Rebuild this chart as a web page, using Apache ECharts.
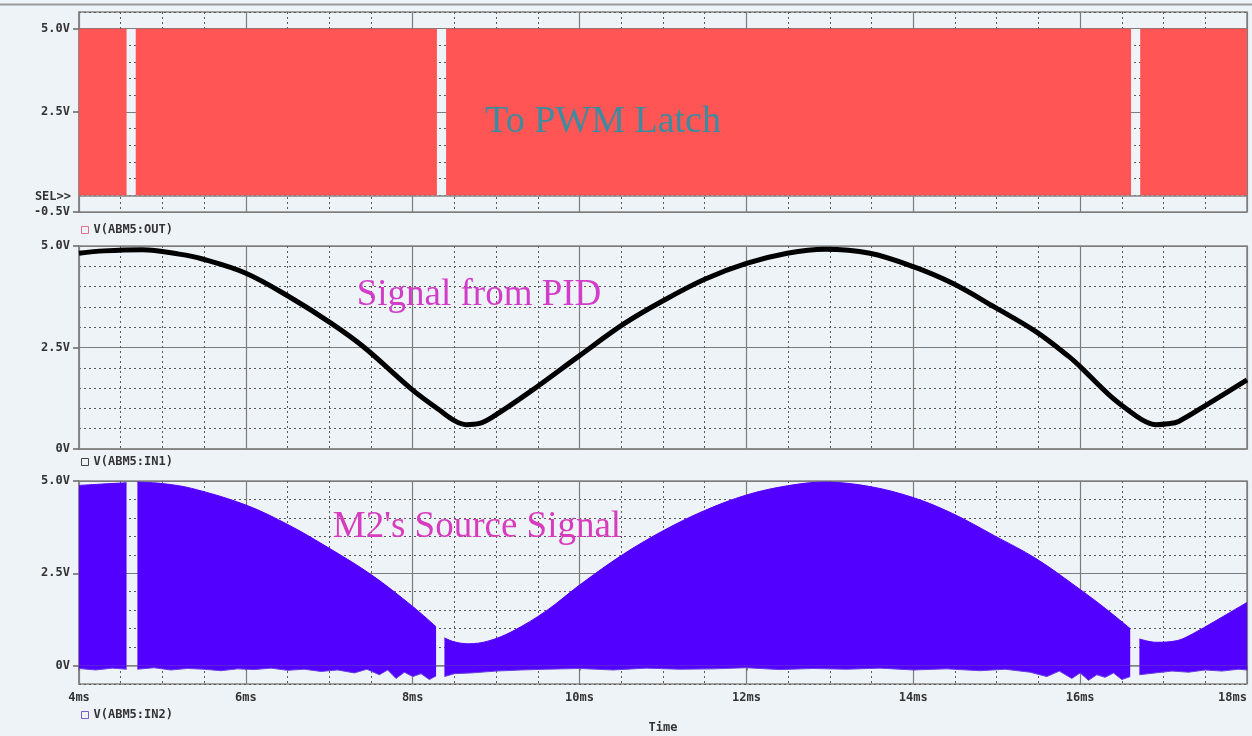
<!DOCTYPE html>
<html>
<head>
<meta charset="utf-8">
<title>ABM5 waveforms</title>
<script src="https://cdn.jsdelivr.net/npm/echarts@6/dist/echarts.min.js"></script>
<style>
html, body { margin: 0; padding: 0; background: #eef3f8; }
#J_chart { width: 1252px; height: 736px; }
</style>
</head>
<body>
<div id="J_chart"></div>
<script>
// time axis (ms)
var timeMin = 4, timeMax = 18;
// y tick labels per panel
var yTicksTop = [-0.5, 2.5, 5];
var yTicksMid = [0, 2.5, 5];
var yTicksBot = [0, 2.5, 5];

// V(ABM5:OUT) -> PWM latch, drops out three times
var pwmTime = [4.0, 4.57, 4.62, 4.68, 8.29, 8.345, 8.40, 16.61, 16.665, 16.72, 18.0];
var pwmVolt = [5, 5, null, 5, 5, null, 5, 5, null, 5, 5];

// V(ABM5:IN1) -> signal from PID
var pidTime = [4.0, 4.3, 4.76, 5.2, 5.48, 6.0, 6.52, 7.02, 7.42, 8.0,
               8.32, 8.5, 8.64, 8.8, 8.95, 9.4, 10.0, 10.53, 11.0, 11.5,
               12.0, 12.49, 12.94, 13.48, 14.0, 14.47, 14.97, 15.47, 15.87, 16.0,
               16.37, 16.68, 16.8, 16.91, 17.05, 17.18, 17.54, 18.0];
var pidVolt = [4.82, 4.88, 4.91, 4.80, 4.68, 4.33, 3.75, 3.10, 2.50, 1.45,
               0.96, 0.70, 0.60, 0.63, 0.78, 1.40, 2.30, 3.08, 3.65, 4.18,
               4.57, 4.82, 4.92, 4.82, 4.49, 4.08, 3.50, 2.89, 2.27, 2.03,
               1.29, 0.80, 0.66, 0.60, 0.62, 0.68, 1.12, 1.70];

// V(ABM5:IN2) -> M2 source, upper envelope
var envTime = [4.0, 4.3, 4.57, 4.62, 4.70, 5.0, 5.35, 6.0, 6.52, 7.02,
               7.51, 8.0, 8.28, 8.33, 8.38, 8.5, 8.67, 8.9, 9.19, 9.6,
               10.0, 10.5, 11.0, 11.5, 12.0, 12.49, 12.94, 13.48, 14.0, 14.47,
               14.97, 15.47, 16.0, 16.3, 16.60, 16.66, 16.71, 16.91, 17.17, 17.35,
               17.6, 18.0];
var envVolt = [4.88, 4.92, 4.95, null, 4.97, 4.93, 4.80, 4.35, 3.80, 3.15,
               2.45, 1.60, 1.05, null, 0.75, 0.64, 0.59, 0.66, 0.92, 1.48,
               2.18, 2.98, 3.65, 4.20, 4.62, 4.87, 4.97, 4.85, 4.55, 4.12,
               3.52, 2.90, 2.06, 1.55, 1.00, null, 0.72, 0.63, 0.68, 0.86,
               1.18, 1.71];

// V(ABM5:IN2) lower (noisy) edge
var lowTime = [4.0, 4.2, 4.4, 4.57, 4.62, 4.70, 4.9, 5.1, 5.3, 5.5,
               5.7, 5.9, 6.1, 6.3, 6.5, 6.7, 6.9, 7.1, 7.3, 7.45,
               7.6, 7.7, 7.8, 7.9, 8.0, 8.1, 8.2, 8.28, 8.33, 8.38,
               8.5, 8.7, 9.0, 9.3, 9.6, 10.0, 10.4, 10.8, 11.2, 11.6,
               12.0, 12.4, 12.8, 13.2, 13.6, 14.0, 14.4, 14.8, 15.1, 15.4,
               15.6, 15.75, 15.9, 16.0, 16.1, 16.2, 16.3, 16.4, 16.5, 16.60,
               16.66, 16.71, 16.9, 17.1, 17.3, 17.5, 17.7, 17.9, 18.0];
var lowVolt = [-0.08, -0.12, -0.07, -0.10, null, -0.10, -0.06, -0.12, -0.08, -0.10,
               -0.14, -0.09, -0.11, -0.07, -0.13, -0.10, -0.16, -0.12, -0.20, -0.10,
               -0.25, -0.12, -0.35, -0.18, -0.30, -0.22, -0.38, -0.28, null, -0.30,
               -0.22, -0.20, -0.15, -0.12, -0.10, -0.08, -0.12, -0.07, -0.10, -0.09,
               -0.06, -0.11, -0.08, -0.10, -0.07, -0.12, -0.09, -0.14, -0.10, -0.18,
               -0.30, -0.15, -0.35, -0.20, -0.40, -0.25, -0.32, -0.20, -0.38, -0.30,
               null, -0.25, -0.20, -0.15, -0.18, -0.12, -0.15, -0.10, -0.12];

var ScopeChart = function(cfg){
    var chart = {
        init: function(){
            this.dom = document.getElementById(cfg.divId);
            this.inst = echarts.init(this.dom, null, {renderer: 'canvas'});
            this.font = 'DejaVu Sans Mono';
            this.panels = [
                {top: 12,  height: 200, min: -0.5, max: 5.5, ticks: yTicksTop},
                {top: 246, height: 203, min: 0,    max: 5,   ticks: yTicksMid},
                {top: 481, height: 203, min: -0.5, max: 5,   ticks: yTicksBot}
            ];
            this.configOption();
            this.inst.setOption(this.option);
        },
        zip: function(t, v){
            var out = [];
            for (var i = 0; i < t.length; i++) {
                out.push([t[i], v[i]]);
            }
            return out;
        },
        voltLabel: function(v){
            return v === 0 ? '0V' : v.toFixed(1) + 'V';
        },
        labelStyle: function(){
            return {fontFamily: this.font, fontWeight: 'bold', fontSize: 12, color: '#333'};
        },
        configOption: function(){
            var self = this;
            var grids = [], xAxes = [], yAxes = [];
            var dashed = {type: [2, 3], color: '#5a5a5a', width: 1};
            var solid = {type: 'solid', color: '#7c7c7c', width: 1.2};
            var n = this.panels.length;

            this.panels.forEach(function(p, g){
                grids.push({
                    left: 79, right: 5, top: p.top, height: p.height,
                    outerBoundsMode: 'none',
                    show: true, borderColor: '#858585', borderWidth: 1.5,
                    backgroundColor: 'transparent'
                });
                // minor (dashed) x grid
                xAxes.push({
                    gridIndex: g, type: 'value', position: 'bottom',
                    min: timeMin, max: timeMax, interval: 0.5,
                    axisLine: {show: false}, axisTick: {show: false}, axisLabel: {show: false},
                    splitLine: {show: true, lineStyle: dashed}
                });
                // minor (dashed) y grid
                yAxes.push({
                    gridIndex: g, type: 'value', position: 'left',
                    min: p.min, max: p.max, interval: 0.5,
                    axisLine: {show: false}, axisTick: {show: false}, axisLabel: {show: false},
                    splitLine: {show: true, lineStyle: dashed}
                });
            });
            this.panels.forEach(function(p, g){
                var last = g === n - 1;
                xAxes.push({
                    gridIndex: g, type: 'value', position: 'bottom',
                    min: timeMin, max: timeMax, interval: 2,
                    axisLine: {show: true, lineStyle: {color: '#858585', width: 1.5}},
                    axisTick: {show: last, length: 5, lineStyle: {color: '#666', width: 1.5}},
                    axisLabel: Object.assign({
                        show: last, margin: 8, alignMaxLabel: 'right',
                        formatter: function(v){ return v + 'ms'; }
                    }, self.labelStyle()),
                    splitLine: {show: true, lineStyle: solid},
                    name: last ? 'Time' : '',
                    nameLocation: 'middle', nameGap: 38,
                    nameTextStyle: self.labelStyle()
                });
                yAxes.push({
                    gridIndex: g, type: 'value', position: 'left',
                    min: p.min, max: p.max,
                    axisLine: {show: true, lineStyle: {color: '#858585', width: 1.5}},
                    axisTick: {show: true, length: 6, customValues: p.ticks, lineStyle: {color: '#666', width: 1.5}},
                    axisLabel: Object.assign({
                        margin: 9, customValues: p.ticks,
                        formatter: function(v){ return self.voltLabel(v); }
                    }, self.labelStyle()),
                    splitLine: {show: true, lineStyle: solid}
                });
            });

            var legendBase = function(name, top, color){
                return {
                    data: [name], left: 81, top: top, padding: 0,
                    icon: 'rect', itemWidth: 7, itemHeight: 7, itemGap: 5,
                    selectedMode: false,
                    itemStyle: {color: 'transparent', borderColor: color, borderWidth: 1},
                    textStyle: self.labelStyle()
                };
            };

            this.option = {
                animation: false,
                backgroundColor: '#eef3f8',
                grid: grids,
                xAxis: xAxes,
                yAxis: yAxes,
                legend: [
                    legendBase('V(ABM5:OUT)', 224, '#e0708a'),
                    legendBase('V(ABM5:IN1)', 456, '#444'),
                    legendBase('V(ABM5:IN2)', 709, '#7a5ad0')
                ],
                graphic: [
                    {type: 'line', shape: {x1: 0, y1: 4.5, x2: 1252, y2: 4.5},
                     style: {stroke: '#9a9a9a', lineWidth: 2}, silent: true},
                    {type: 'text', x: 71, y: 197, silent: true,
                     style: {text: 'SEL>>', align: 'right', verticalAlign: 'middle',
                             font: 'bold 12px "DejaVu Sans Mono"', fill: '#333'}},
                    {type: 'text', x: 603, y: 122, silent: true, z: 10,
                     style: {text: 'To PWM Latch', align: 'center', verticalAlign: 'middle',
                             font: '38px "Liberation Serif"', fill: '#3a8c9e'}},
                    {type: 'text', x: 479, y: 295, silent: true, z: 10,
                     style: {text: 'Signal from PID', align: 'center', verticalAlign: 'middle',
                             font: '37px "Liberation Serif"', fill: '#d23cc8'}},
                    {type: 'text', x: 477, y: 527, silent: true, z: 10,
                     style: {text: "M2's Source Signal", align: 'center', verticalAlign: 'middle',
                             font: '37px "Liberation Serif"', fill: '#d83cbe'}}
                ],
                series: [
                    {
                        name: 'V(ABM5:OUT)', type: 'line',
                        xAxisIndex: 3, yAxisIndex: 3,
                        showSymbol: false, connectNulls: false,
                        itemStyle: {color: '#ff5555'},
                        lineStyle: {width: 0},
                        areaStyle: {color: '#ff5555', opacity: 1, origin: 0},
                        data: this.zip(pwmTime, pwmVolt)
                    },
                    {
                        name: 'V(ABM5:IN1)', type: 'line',
                        xAxisIndex: 4, yAxisIndex: 4,
                        showSymbol: false, smooth: 0.35,
                        itemStyle: {color: '#000'},
                        lineStyle: {color: '#000', width: 5},
                        data: this.zip(pidTime, pidVolt)
                    },
                    {
                        name: 'V(ABM5:IN2)', type: 'line',
                        xAxisIndex: 5, yAxisIndex: 5,
                        showSymbol: false, smooth: 0.35, connectNulls: false,
                        itemStyle: {color: '#5200ff'},
                        lineStyle: {color: '#5200ff', width: 1},
                        areaStyle: {color: '#5200ff', opacity: 1, origin: 0},
                        data: this.zip(envTime, envVolt)
                    },
                    {
                        name: 'V(ABM5:IN2)', type: 'line',
                        xAxisIndex: 5, yAxisIndex: 5,
                        showSymbol: false, connectNulls: false,
                        itemStyle: {color: '#5200ff'},
                        lineStyle: {color: '#6a40e0', width: 1},
                        areaStyle: {color: '#5200ff', opacity: 1, origin: 0},
                        data: this.zip(lowTime, lowVolt)
                    }
                ]
            };
        }
    };
    return chart;
};

(function(){
    var scope = new ScopeChart({divId: 'J_chart'});
    scope.init();
})();
</script>
</body>
</html>
